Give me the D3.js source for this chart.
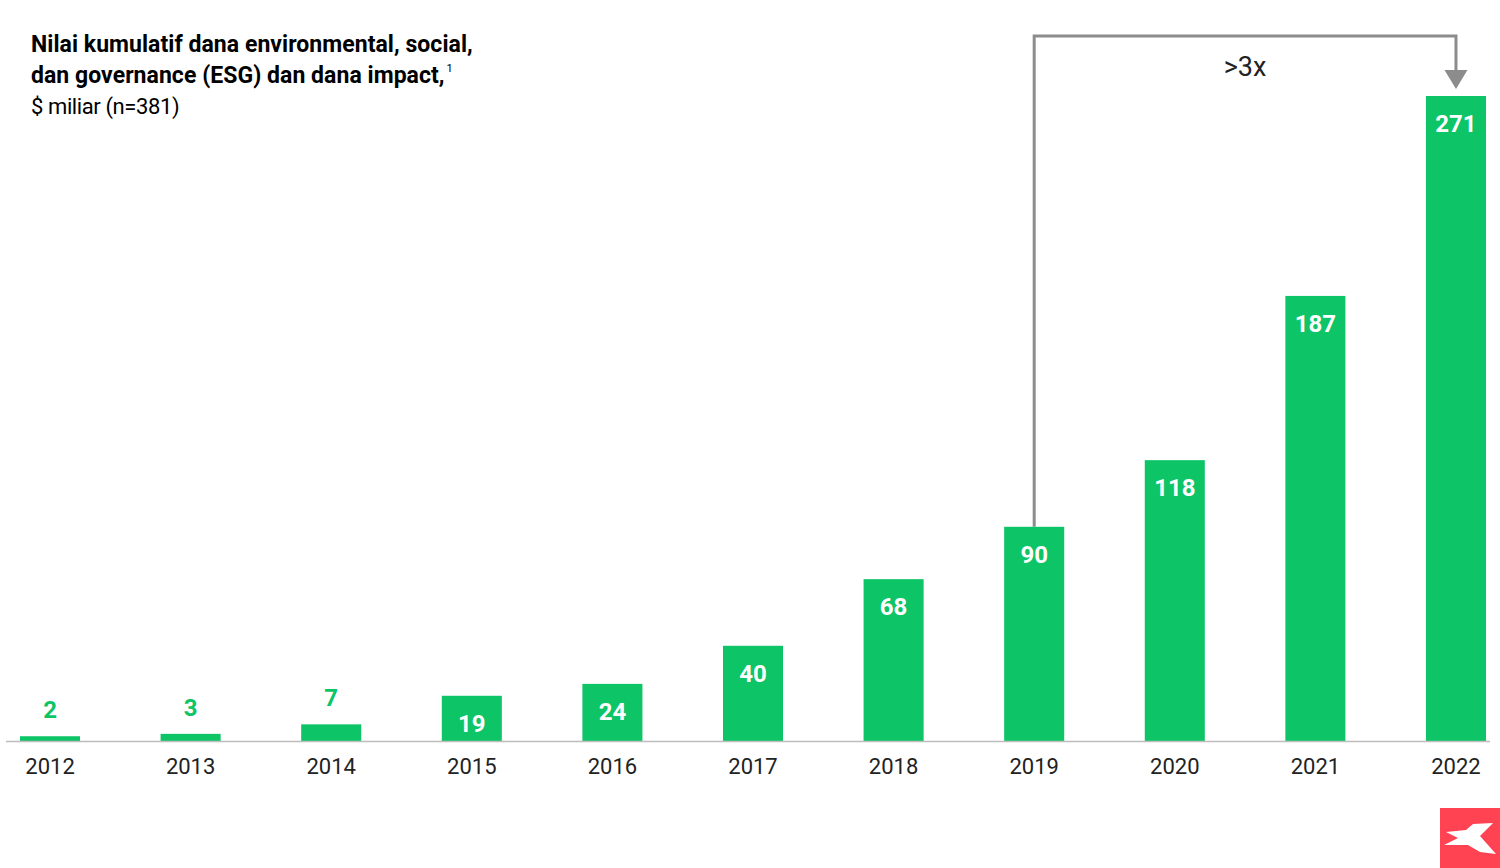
<!DOCTYPE html>
<html>
<head>
<meta charset="utf-8">
<script src="https://cdn.jsdelivr.net/npm/d3@7"></script>
<style>
  body { margin: 0; background: #fff; }
  svg { display: block; font-family: Roboto, "Noto Sans", sans-serif; }
</style>
</head>
<body>
<div id="chart"></div>
<script>
// Datos del gráfico
const years = ["2012", "2013", "2014", "2015", "2016", "2017", "2018", "2019", "2020", "2021", "2022"];
const values = [2, 3, 7, 19, 24, 40, 68, 90, 118, 187, 271];
const titleLines = ["Nilai kumulatif dana environmental, social,", "dan governance (ESG) dan dana impact,"];
const subtitle = "$ miliar (n=381)";
const growthLabel = ">3x";
const growthFrom = "2019";
const growthTo = "2022";

const W = 1500, H = 868;
const green = "#0dc466";
const gray = "#8c8c8c";

const svg = d3.select("#chart").append("svg")
  .attr("width", W).attr("height", H);

// Escalas
const x = d3.scaleBand()
  .domain(years)
  .range([20, 1486])
  .paddingInner(0.573)
  .paddingOuter(0);

const y = d3.scaleLinear()
  .domain([0, 271])
  .range([741, 96]);

// Barras
svg.selectAll("rect.bar")
  .data(values)
  .enter().append("rect")
  .attr("class", "bar")
  .attr("x", (d, i) => x(years[i]))
  .attr("width", x.bandwidth())
  .attr("y", d => y(d))
  .attr("height", d => y(0) - y(d))
  .attr("fill", green);

// Línea base
svg.append("line")
  .attr("x1", 6).attr("x2", 1490)
  .attr("y1", y(0) + 0.5).attr("y2", y(0) + 0.5)
  .attr("stroke", "#bdbdbd").attr("stroke-width", 1.5);

// Eje X
const xAxis = svg.append("g")
  .attr("transform", `translate(0, ${y(0)})`)
  .call(d3.axisBottom(x).tickSize(0).tickPadding(17));
xAxis.select(".domain").remove();
xAxis.selectAll("text")
  .attr("font-family", "Roboto")
  .attr("font-size", 22)
  .attr("fill", "#222");

// Etiquetas de valores
svg.selectAll("text.val")
  .data(values)
  .enter().append("text")
  .attr("class", "val")
  .attr("x", (d, i) => x(years[i]) + x.bandwidth() / 2)
  .attr("y", d => (y(0) - y(d) < 40) ? y(d) - 18 : y(d) + 36)
  .attr("text-anchor", "middle")
  .attr("font-size", 24)
  .attr("font-weight", "bold")
  .attr("fill", d => (y(0) - y(d) < 40) ? green : "#fff")
  .text(d => d);

// Flecha de crecimiento
const i0 = years.indexOf(growthFrom);
const xa = x(growthFrom) + x.bandwidth() / 2;
const xb = x(growthTo) + x.bandwidth() / 2;
const topY = 36;
svg.append("path")
  .attr("d", `M${xa},${y(values[i0])} V${topY} H${xb} V72`)
  .attr("fill", "none")
  .attr("stroke", gray)
  .attr("stroke-width", 3);
svg.append("path")
  .attr("d", `M${xb - 11.5},70 L${xb + 11.5},70 L${xb},89 Z`)
  .attr("fill", gray);
svg.append("text")
  .attr("x", (xa + xb) / 2)
  .attr("y", 76)
  .attr("text-anchor", "middle")
  .attr("font-size", 27)
  .attr("fill", "#222")
  .text(growthLabel);

// Título
const title = svg.append("g").attr("transform", "translate(31, 0)");
titleLines.forEach((t, k) => {
  const tx = title.append("text")
    .attr("x", 0).attr("y", 52 + k * 31)
    .attr("font-size", 23)
    .attr("font-weight", "bold")
    .attr("letter-spacing", "0.05")
    .attr("fill", "#000")
    .text(t);
  if (k === 1) tx.append("tspan").attr("font-size", 11).attr("dy", -11).attr("dx", 2).attr("font-weight", "normal").text("1");
});
title.append("text")
  .attr("x", 0).attr("y", 114)
  .attr("font-size", 22)
  .attr("letter-spacing", "-0.4")
  .attr("fill", "#000")
  .text(subtitle);

// Logo
const logo = svg.append("g").attr("transform", "translate(1440, 808)");
logo.append("rect").attr("width", 60).attr("height", 60).attr("fill", "#ff4352");
logo.append("path")
  .attr("d", "M6,24 L26,22 L33,16 L53,15 L40,28 L56,46 L40,44 L28,37 L4,37 L18,30 Z")
  .attr("fill", "#fff");
</script>
</body>
</html>
